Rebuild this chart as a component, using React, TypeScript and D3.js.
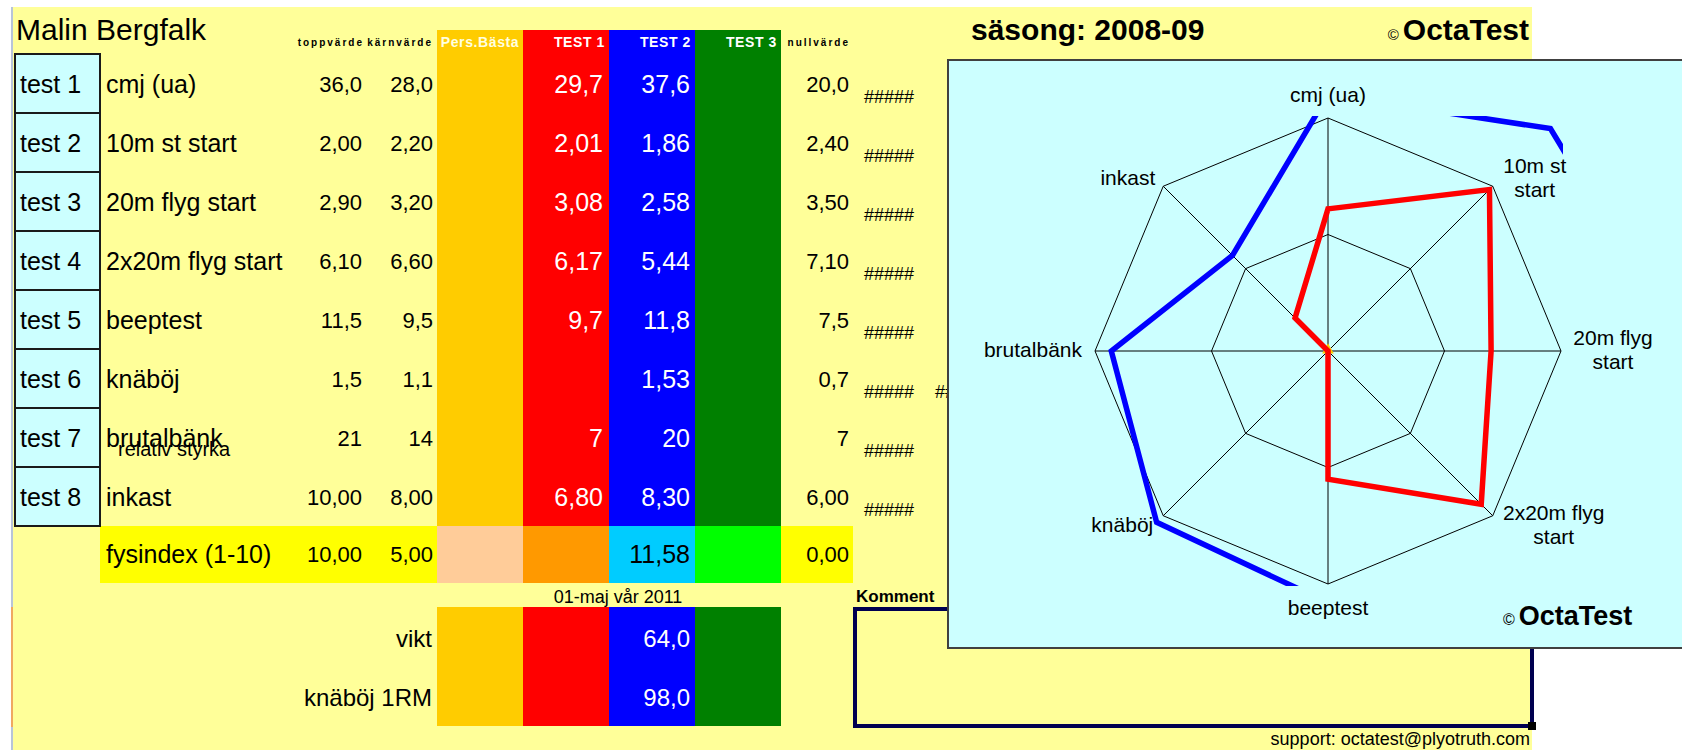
import * as d3 from "d3";
import { useMemo } from "react";

// spreadsheet data
const playerName = "Malin Bergfalk";
const season = "säsong: 2008-09";
const testIds = ["test 1", "test 2", "test 3", "test 4", "test 5", "test 6", "test 7", "test 8"];
const testNames = ["cmj (ua)", "10m st start", "20m flyg start", "2x20m flyg start", "beeptest", "knäböj", "brutalbänk", "inkast"];
const toppValues = ["36,0", "2,00", "2,90", "6,10", "11,5", "1,5", "21", "10,00"];
const karnValues = ["28,0", "2,20", "3,20", "6,60", "9,5", "1,1", "14", "8,00"];
const test1Values = ["29,7", "2,01", "3,08", "6,17", "9,7", "", "7", "6,80"];
const test2Values = ["37,6", "1,86", "2,58", "5,44", "11,8", "1,53", "20", "8,30"];
const nullValues = ["20,0", "2,40", "3,50", "7,10", "7,5", "0,7", "7", "6,00"];
const columnKeys = ["Pers.Bästa", "TEST 1", "TEST 2", "TEST 3"];
const fysRow = { label: "fysindex (1-10)", topp: "10,00", karn: "5,00", test2: "11,58", nullv: "0,00" };
const extraLabels = ["vikt", "knäböj 1RM"];
const extraTest2 = ["64,0", "98,0"];

// radar scores (0-10 scale)
const axisLabels = [["cmj (ua)"], ["10m st", "start"], ["20m flyg", "start"], ["2x20m flyg", "start"], ["beeptest"], ["knäböj"], ["brutalbänk"], ["inkast"]];
const persBastaScores = [0, 0, 0, 0, 0, 0, 0, 0];
const test1Scores = [6.1, 9.8, 7.0, 9.3, 5.5, 0, 0, 2.0];
const test2Scores = [11.0, 13.5, 15.3, 16.6, 10.8, 10.4, 9.3, 5.8];
const ringLevels = [5, 10];

const W = 1682;
const H = 750;
const FONT = "'Liberation Sans', Arial, sans-serif";
const colColors = ["#ffcc00", "#ff0000", "#0000ff", "#008000"];
const fysColors = ["#ffcc99", "#ff9900", "#00ccff", "#00ff00"];

// label placement relative to each vertex
const labelLayout = [
  { dx: 0, dy: -16, anchor: "middle" },
  { dx: 42, dy: -13, anchor: "middle" },
  { dx: 52, dy: -6, anchor: "middle" },
  { dx: 61, dy: 4, anchor: "middle" },
  { dx: 0, dy: 31, anchor: "middle" },
  { dx: -10, dy: 16, anchor: "end" },
  { dx: -13, dy: 6, anchor: "end" },
  { dx: -8, dy: -1, anchor: "end" },
];

const Radar = () => {
  const cx = 1328;
  const cy = 351;
  const R = 233;
  const r = d3.scaleLinear().domain([0, 10]).range([0, R]);
  const angle = d3.scalePoint().domain(d3.range(8).map(String)).range([0, (Math.PI * 2 * 7) / 8]);
  const pt = (i: number, v: number) => {
    const a = angle(String(i))!;
    return [r(v) * Math.sin(a), -r(v) * Math.cos(a)];
  };
  const line = d3
    .lineRadial<number>()
    .angle((_, i) => angle(String(i))!)
    .radius((d) => r(d))
    .curve(d3.curveLinearClosed);
  const tri = d3.symbol(d3.symbolTriangle, 60)();

  return (
    <g>
      <rect x={948} y={60} width={760} height={588} fill="#ccffff" stroke="#404040" strokeWidth={2} />
      <defs>
        <clipPath id="plotclip">
          <rect x={-R - 2} y={-R - 2} width={2 * R + 4} height={2 * R + 4} />
        </clipPath>
      </defs>
      <g transform={`translate(${cx},${cy})`}>
        {ringLevels.map((lv) => (
          <path key={lv} d={line(persBastaScores.map(() => lv))!} fill="none" stroke="#000" strokeWidth={1} />
        ))}
        {axisLabels.map((_, i) => {
          const [x, y] = pt(i, 10);
          return <line key={i} x1={0} y1={0} x2={x} y2={y} stroke="#000" strokeWidth={1} />;
        })}
        <g clipPath="url(#plotclip)">
          <path d={tri!} fill="#ffcc00" transform={`translate(0,${r(persBastaScores[0]) - 1})`} />
          <path d={line(test1Scores)!} fill="none" stroke="#ff0000" strokeWidth={5.5} strokeLinejoin="miter" />
          <path d={line(test2Scores)!} fill="none" stroke="#0000ff" strokeWidth={5.5} strokeLinejoin="miter" />
        </g>
        {axisLabels.map((lines, i) => {
          const [x, y] = pt(i, 10);
          const l = labelLayout[i];
          return (
            <text key={i} x={x + l.dx} y={y + l.dy} textAnchor={l.anchor} fontSize={21} fontFamily={FONT} fill="#000">
              {lines.map((s, j) => (
                <tspan key={j} x={x + l.dx} dy={j === 0 ? 0 : 24}>
                  {s}
                </tspan>
              ))}
            </text>
          );
        })}
      </g>
      <text x={1503} y={625} fontFamily={FONT} fill="#000">
        <tspan fontSize={16}>©</tspan>
        <tspan fontSize={27} fontWeight="bold" dx={4}>OctaTest</tspan>
      </text>
    </g>
  );
};

const App = () => {
  const rows = useMemo(() => d3.scaleBand().domain(testIds).range([54, 526]), []);
  const cols = useMemo(() => d3.scaleBand().domain(columnKeys).range([437, 781]), []);
  const extraRows = useMemo(() => d3.scaleBand().domain(extraLabels).range([607, 726]), []);
  const bw = cols.bandwidth();
  const rc = (id: string) => rows(id)! + rows.bandwidth() / 2;

  return (
    <svg width={W} height={H} style={{ position: "absolute", left: 0, top: 0, display: "block" }} fontFamily={FONT}>
      <rect x={0} y={0} width={W} height={H} fill="#fff" />
      <rect x={13} y={7} width={1519} height={H - 7} fill="#ffff99" />
      <line x1={12} y1={7} x2={12} y2={H} stroke="#b8c4d8" strokeWidth={2} />
      <line x1={12} y1={607} x2={12} y2={727} stroke="#f0a860" strokeWidth={2} />

      <text x={16} y={40} fontSize={30}>{playerName}</text>

      {/* colored test columns */}
      {columnKeys.map((k, i) => (
        <g key={k}>
          <rect x={cols(k)} y={30} width={bw} height={526 - 30} fill={colColors[i]} />
          <rect x={cols(k)} y={526} width={bw} height={57} fill={fysColors[i]} />
          <rect x={cols(k)} y={607} width={bw} height={119} fill={colColors[i]} />
          <text
            x={i === 0 ? cols(k)! + bw / 2 : cols(k)! + bw - 4}
            y={47}
            textAnchor={i === 0 ? "middle" : "end"}
            fontSize={14}
            fontWeight="bold"
            letterSpacing={0.6}
            fill={i === 0 ? "#ffffe0" : "#fff"}
          >
            {k}
          </text>
        </g>
      ))}
      <rect x={100} y={526} width={337} height={57} fill="#ffff00" />
      <rect x={781} y={526} width={72} height={57} fill="#ffff00" />

      <text x={364} y={46} textAnchor="end" fontSize={10} fontWeight="bold" letterSpacing={2}>toppvärde</text>
      <text x={433} y={46} textAnchor="end" fontSize={10} fontWeight="bold" letterSpacing={2}>kärnvärde</text>
      <text x={850} y={46} textAnchor="end" fontSize={10} fontWeight="bold" letterSpacing={2}>nullvärde</text>

      {testIds.map((id, i) => (
        <g key={id}>
          <rect x={15} y={rows(id)} width={85} height={rows.bandwidth()} fill="#ccffff" stroke="#1a1a1a" strokeWidth={2} />
          <text x={20} y={rc(id) + 9} fontSize={25}>{id}</text>
          <text x={106} y={rc(id) + 9} fontSize={25}>{testNames[i]}</text>
          <text x={362} y={rc(id) + 8} fontSize={22} textAnchor="end">{toppValues[i]}</text>
          <text x={433} y={rc(id) + 8} fontSize={22} textAnchor="end">{karnValues[i]}</text>
          <text x={cols("TEST 1")! + bw - 6} y={rc(id) + 9} fontSize={25} textAnchor="end" fill="#fff">{test1Values[i]}</text>
          <text x={cols("TEST 2")! + bw - 5} y={rc(id) + 9} fontSize={25} textAnchor="end" fill="#fff">{test2Values[i]}</text>
          <text x={849} y={rc(id) + 8} fontSize={22} textAnchor="end">{nullValues[i]}</text>
          <text x={864} y={rc(id) + 19} fontSize={18}>#####</text>
          {i === 5 && <text x={935} y={rc(id) + 19} fontSize={18}>#####</text>}
        </g>
      ))}
      <text x={118} y={456} fontSize={20}>relativ styrka</text>

      <text x={106} y={563} fontSize={25}>{fysRow.label}</text>
      <text x={362} y={562} fontSize={22} textAnchor="end">{fysRow.topp}</text>
      <text x={433} y={562} fontSize={22} textAnchor="end">{fysRow.karn}</text>
      <text x={cols("TEST 2")! + bw - 5} y={563} fontSize={25} textAnchor="end">{fysRow.test2}</text>
      <text x={849} y={562} fontSize={22} textAnchor="end">{fysRow.nullv}</text>

      <text x={618} y={603} fontSize={18} textAnchor="middle">01-maj  vår 2011</text>
      {extraLabels.map((lb, i) => {
        const y = extraRows(lb)! + extraRows.bandwidth() / 2 + 10;
        return (
          <g key={lb}>
            <text x={432} y={y} fontSize={24} textAnchor="end">{lb}</text>
            <text x={cols("TEST 2")! + bw - 5} y={y} fontSize={24} textAnchor="end" fill="#fff">{extraTest2[i]}</text>
          </g>
        );
      })}

      {/* comment box */}
      <text x={856} y={602} fontSize={17} fontWeight="bold">Komment</text>
      <rect x={855} y={609} width={677} height={117} fill="none" stroke="#000050" strokeWidth={4} />
      <rect x={1528} y={722} width={8} height={8} fill="#000" />
      <text x={1530} y={745} fontSize={18} textAnchor="end">support: octatest@plyotruth.com</text>

      <text x={971} y={40} fontSize={30} fontWeight="bold">{season}</text>
      <text x={1529} y={40} textAnchor="end">
        <tspan fontSize={15}>©</tspan>
        <tspan fontSize={30} fontWeight="bold" dx={4}>OctaTest</tspan>
      </text>

      <Radar />
    </svg>
  );
};

export default App;
